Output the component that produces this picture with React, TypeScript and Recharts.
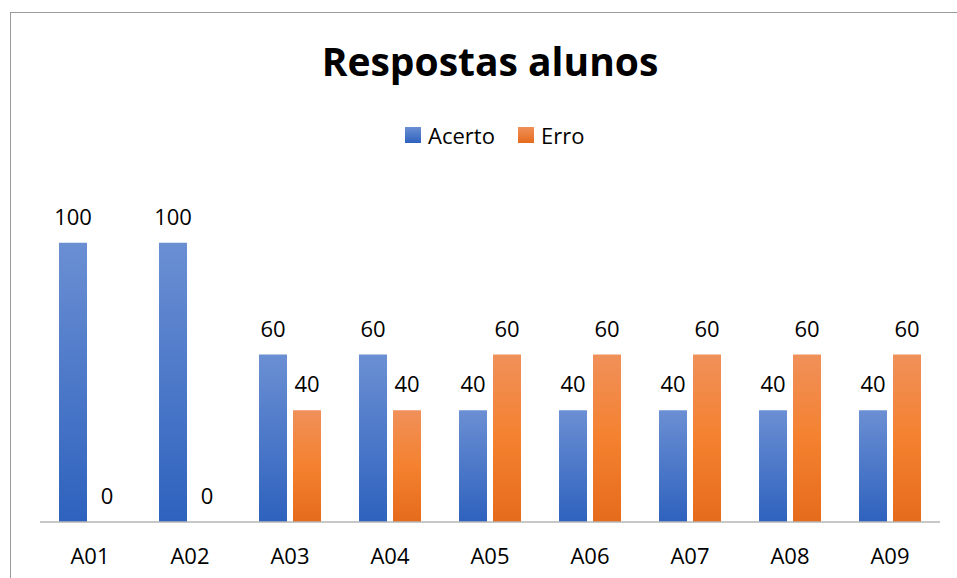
import { BarChart, Bar, XAxis, YAxis, LabelList } from 'recharts'

const alunos = ['A01', 'A02', 'A03', 'A04', 'A05', 'A06', 'A07', 'A08', 'A09']
const acerto = [100, 100, 60, 60, 40, 40, 40, 40, 40]
const erro = [0, 0, 40, 40, 60, 60, 60, 60, 60]

const data = alunos.map((aluno, i) => ({ aluno, acerto: acerto[i], erro: erro[i] }))

const FONT = '"Open Sans", sans-serif'

const legendItems = [
  { name: 'Acerto', x: 405, c1: '#6b8fd3', c2: '#2e62be' },
  { name: 'Erro', x: 518, c1: '#f0905a', c2: '#e56b1c' },
]

function LegendBox() {
  return (
    <>
      {legendItems.map((it) => (
        <div
          key={it.name}
          style={{
            position: 'absolute',
            left: it.x,
            top: 120,
            height: 30,
            display: 'flex',
            alignItems: 'center',
            fontFamily: FONT,
            fontSize: 22,
            color: '#000',
          }}
        >
          <span
            style={{
              display: 'inline-block',
              width: 16,
              height: 16,
              marginRight: 7,
              background: `linear-gradient(${it.c1}, ${it.c2})`,
            }}
          />
          <span>{it.name}</span>
        </div>
      ))}
    </>
  )
}

// draws the value above the bar, also when the value is 0
function ValueLabel(props: any) {
  const { x, y, width, value } = props
  if (x == null || y == null) return null
  return (
    <text
      x={Number(x) + Number(width) / 2}
      y={Number(y) - 18}
      textAnchor="middle"
      fill="#000"
      fontSize={22}
      fontFamily={FONT}
    >
      {String(value)}
    </text>
  )
}

export default function App() {
  return (
    <div style={{ position: 'absolute', left: 0, top: 0, width: 957, height: 578, overflow: 'hidden', background: '#fff' }}>
      <div
        style={{
          position: 'absolute',
          left: 10,
          top: 12,
          width: 1000,
          height: 700,
          borderTop: '1px solid #9a9a9a',
          borderLeft: '1px solid #9a9a9a',
        }}
      />
      <svg width={957} height={100} style={{ position: 'absolute', left: 0, top: 0 }}>
        <text x={490} y={76} textAnchor="middle" fontFamily={FONT} fontWeight={700} fontSize={39} fill="#000">
          Respostas alunos
        </text>
      </svg>
      <LegendBox />
      <BarChart
        width={957}
        height={578}
        data={data}
        margin={{ top: 187, right: 17, left: 40, bottom: 0 }}
        barSize={28}
        barGap={6}
        style={{ position: 'absolute', left: 0, top: 0 }}
      >
        <defs>
          <linearGradient id="gradAcerto" x1="0" y1="0" x2="0" y2="1">
            <stop offset="0%" stopColor="#6b8fd3" />
            <stop offset="100%" stopColor="#2e62be" />
          </linearGradient>
          <linearGradient id="gradErro" x1="0" y1="0" x2="0" y2="1">
            <stop offset="0%" stopColor="#f0905a" />
            <stop offset="50%" stopColor="#f4812f" />
            <stop offset="100%" stopColor="#e56b1c" />
          </linearGradient>
        </defs>
        <XAxis
          dataKey="aluno"
          height={56}
          tickLine={false}
          tickSize={0}
          tickMargin={26}
          axisLine={{ stroke: '#b4b4b4', strokeWidth: 1.5 }}
          tick={{ fill: '#000', fontSize: 22, fontFamily: FONT }}
        />
        <YAxis hide domain={[0, 120]} />
        <Bar dataKey="acerto" name="Acerto" fill="url(#gradAcerto)" minPointSize={0.01} isAnimationActive={false}>
          <LabelList dataKey="acerto" content={ValueLabel} />
        </Bar>
        <Bar dataKey="erro" name="Erro" fill="url(#gradErro)" minPointSize={0.01} isAnimationActive={false}>
          <LabelList dataKey="erro" content={ValueLabel} />
        </Bar>
      </BarChart>
    </div>
  )
}
